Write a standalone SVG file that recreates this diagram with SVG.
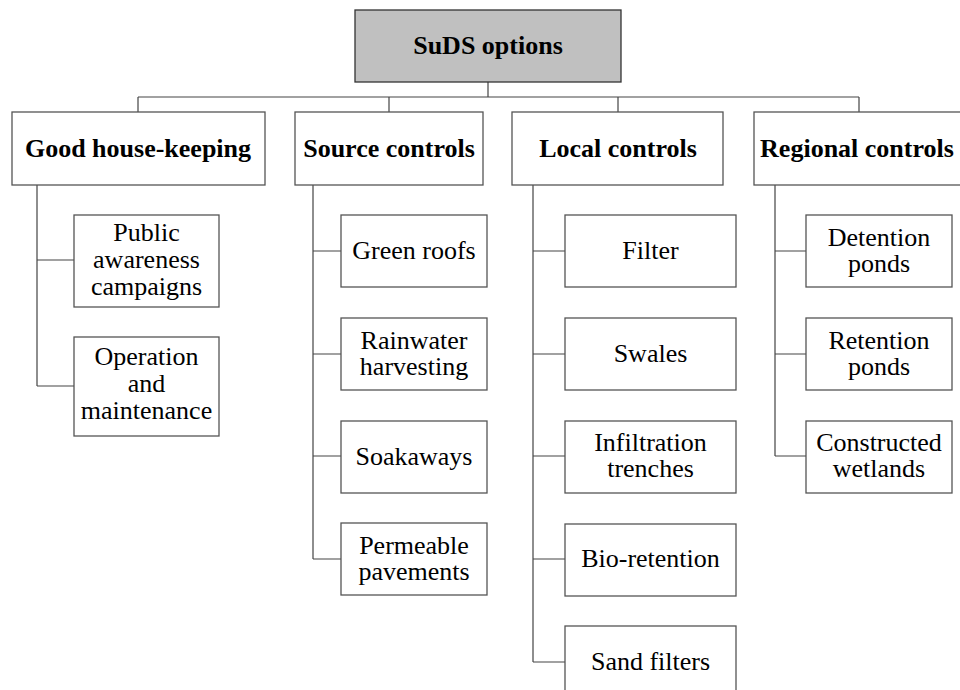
<svg xmlns="http://www.w3.org/2000/svg" width="960" height="690" viewBox="0 0 960 690">
<style>
.box{fill:#fff;stroke:#555;stroke-width:1.3}
.root{fill:#c0c0c0;stroke:#333;stroke-width:1.3}
text{font-family:'Liberation Serif','DejaVu Serif',serif;font-size:26px;text-anchor:middle;fill:#000}
.h{font-weight:bold}
.ln{fill:none;stroke:#444;stroke-width:1.2}
</style>
<rect width="960" height="690" fill="#fff"/>
<g id="connectors">
<path class="ln" d="M488,82V97M138,97H859M138,97V112M389,97V112M618,97V112M859,97V112"/>
<path class="ln" d="M37,185V386M37,260H74M37,386H74"/>
<path class="ln" d="M313,185V559M313,251H341M313,354H341M313,456H341M313,559H341"/>
<path class="ln" d="M533,185V662M533,251H565M533,354H565M533,456H565M533,559H565M533,662H565"/>
<path class="ln" d="M775,185V456M775,251H806M775,354H806M775,456H806"/>
</g>
<g id="root"><rect class="root" x="355" y="10" width="266" height="72"/><text class="h" x="488" y="54">SuDS options</text></g>
<g id="good"><rect class="box" x="12" y="112" width="253" height="73"/><text class="h" x="138" y="157">Good house-keeping</text></g>
<g id="source"><rect class="box" x="295" y="112" width="188" height="73"/><text class="h" x="389" y="157">Source controls</text></g>
<g id="local"><rect class="box" x="512" y="112" width="211" height="73"/><text class="h" x="618" y="157">Local controls</text></g>
<g id="regional"><rect class="box" x="754" y="112" width="210" height="73"/><text class="h" x="857" y="157">Regional controls</text></g>
<g id="public"><rect class="box" x="74" y="215" width="145" height="92"/><text x="146.5" y="241">Public</text><text x="146.5" y="268">awareness</text><text x="146.5" y="295">campaigns</text></g>
<g id="operation"><rect class="box" x="74" y="337" width="145" height="99"/><text x="146.5" y="365">Operation</text><text x="146.5" y="392">and</text><text x="146.5" y="419">maintenance</text></g>
<g id="green"><rect class="box" x="341" y="215" width="146" height="72"/><text x="414" y="259">Green roofs</text></g>
<g id="rainwater"><rect class="box" x="341" y="318" width="146" height="72"/><text x="414" y="349">Rainwater</text><text x="414" y="375">harvesting</text></g>
<g id="soakaways"><rect class="box" x="341" y="421" width="146" height="72"/><text x="414" y="465">Soakaways</text></g>
<g id="permeable"><rect class="box" x="341" y="523" width="146" height="72"/><text x="414" y="554">Permeable</text><text x="414" y="580">pavements</text></g>
<g id="filter"><rect class="box" x="565" y="215" width="171" height="72"/><text x="650.5" y="259">Filter</text></g>
<g id="swales"><rect class="box" x="565" y="318" width="171" height="72"/><text x="650.5" y="362">Swales</text></g>
<g id="infiltration"><rect class="box" x="565" y="421" width="171" height="72"/><text x="650.5" y="451">Infiltration</text><text x="650.5" y="477">trenches</text></g>
<g id="bio"><rect class="box" x="565" y="524" width="171" height="72"/><text x="650.5" y="567">Bio-retention</text></g>
<g id="sand"><rect class="box" x="565" y="626" width="171" height="72"/><text x="650.5" y="670">Sand filters</text></g>
<g id="detention"><rect class="box" x="806" y="215" width="146" height="72"/><text x="879" y="246">Detention</text><text x="879" y="272">ponds</text></g>
<g id="retention"><rect class="box" x="806" y="318" width="146" height="72"/><text x="879" y="349">Retention</text><text x="879" y="375">ponds</text></g>
<g id="constructed"><rect class="box" x="806" y="421" width="146" height="72"/><text x="879" y="451">Constructed</text><text x="879" y="477">wetlands</text></g>
</svg>
